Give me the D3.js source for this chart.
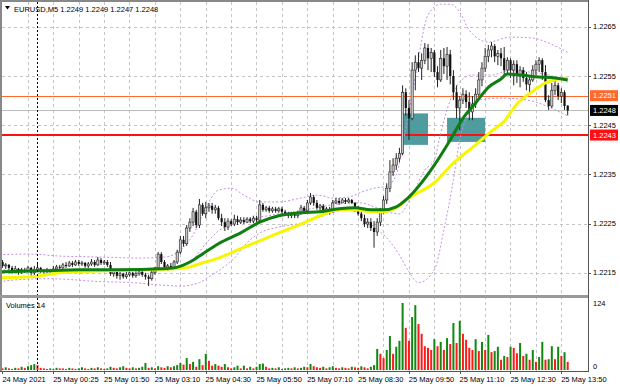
<!DOCTYPE html>
<html>
<head>
<script src="https://d3js.org/d3.v7.min.js"></script>
<style>
  body { margin: 0; background: #fff; }
  svg text { font-family: "Liberation Sans", Arial, sans-serif; }
</style>
</head>
<body>
<div id="chart"></div>
<script>
// EURUSD M5, 24 May 23:05 .. 25 May 14:00, one row per bar: open, high, low, close
const candles = [
  [1.22166,1.22180,1.22160,1.22172],[1.22172,1.22176,1.22160,1.22164],[1.22164,1.22170,1.22158,1.22166],[1.22166,1.22168,1.22156,1.22160],[1.22160,1.22164,1.22148,1.22154],
  [1.22154,1.22164,1.22150,1.22158],[1.22158,1.22160,1.22146,1.22152],[1.22152,1.22160,1.22148,1.22156],[1.22156,1.22160,1.22150,1.22154],[1.22154,1.22164,1.22152,1.22160],
  [1.22160,1.22162,1.22140,1.22150],[1.22150,1.22164,1.22142,1.22156],[1.22156,1.22168,1.22152,1.22160],[1.22160,1.22162,1.22150,1.22154],[1.22154,1.22158,1.22148,1.22152],
  [1.22152,1.22160,1.22150,1.22156],[1.22156,1.22158,1.22150,1.22154],[1.22154,1.22164,1.22152,1.22158],[1.22158,1.22166,1.22156,1.22162],[1.22162,1.22166,1.22156,1.22160],
  [1.22160,1.22170,1.22158,1.22166],[1.22166,1.22172,1.22160,1.22164],[1.22164,1.22174,1.22162,1.22170],[1.22170,1.22174,1.22162,1.22166],[1.22166,1.22176,1.22164,1.22172],
  [1.22172,1.22176,1.22164,1.22168],[1.22168,1.22174,1.22164,1.22170],[1.22170,1.22172,1.22160,1.22164],[1.22164,1.22172,1.22160,1.22168],[1.22168,1.22178,1.22164,1.22172],
  [1.22172,1.22176,1.22162,1.22166],[1.22166,1.22182,1.22164,1.22176],[1.22176,1.22180,1.22166,1.22170],[1.22170,1.22176,1.22166,1.22172],[1.22172,1.22176,1.22162,1.22166],
  [1.22166,1.22172,1.22144,1.22148],[1.22148,1.22156,1.22142,1.22152],[1.22152,1.22154,1.22138,1.22144],[1.22144,1.22152,1.22136,1.22148],[1.22148,1.22150,1.22138,1.22142],
  [1.22142,1.22152,1.22138,1.22146],[1.22146,1.22156,1.22142,1.22150],[1.22150,1.22152,1.22140,1.22144],[1.22144,1.22154,1.22140,1.22148],[1.22148,1.22158,1.22144,1.22152],
  [1.22152,1.22154,1.22142,1.22146],[1.22146,1.22150,1.22136,1.22142],[1.22142,1.22146,1.22123,1.22138],[1.22138,1.22154,1.22134,1.22150],[1.22150,1.22162,1.22146,1.22160],
  [1.22160,1.22192,1.22158,1.22188],[1.22188,1.22192,1.22168,1.22172],[1.22172,1.22176,1.22156,1.22160],[1.22160,1.22168,1.22154,1.22164],[1.22164,1.22170,1.22156,1.22160],
  [1.22160,1.22176,1.22156,1.22172],[1.22172,1.22197,1.22168,1.22192],[1.22192,1.22225,1.22188,1.22217],[1.22217,1.22225,1.22203,1.22209],[1.22209,1.22247,1.22205,1.22241],
  [1.22241,1.22261,1.22233,1.22253],[1.22253,1.22282,1.22245,1.22274],[1.22274,1.22278,1.22241,1.22247],[1.22247,1.22300,1.22241,1.22288],[1.22288,1.22292,1.22266,1.22270],
  [1.22270,1.22294,1.22261,1.22282],[1.22282,1.22292,1.22274,1.22286],[1.22286,1.22292,1.22270,1.22278],[1.22278,1.22288,1.22270,1.22282],[1.22282,1.22286,1.22257,1.22261],
  [1.22261,1.22270,1.22245,1.22253],[1.22253,1.22261,1.22235,1.22243],[1.22243,1.22261,1.22237,1.22255],[1.22255,1.22259,1.22245,1.22249],[1.22249,1.22268,1.22245,1.22259],
  [1.22259,1.22266,1.22247,1.22253],[1.22253,1.22263,1.22249,1.22257],[1.22257,1.22263,1.22249,1.22253],[1.22253,1.22263,1.22251,1.22259],[1.22259,1.22263,1.22251,1.22255],
  [1.22255,1.22266,1.22251,1.22261],[1.22261,1.22266,1.22253,1.22257],[1.22257,1.22298,1.22253,1.22288],[1.22288,1.22292,1.22274,1.22278],[1.22278,1.22286,1.22274,1.22282],
  [1.22282,1.22286,1.22272,1.22276],[1.22276,1.22284,1.22272,1.22280],[1.22280,1.22284,1.22272,1.22276],[1.22276,1.22284,1.22272,1.22280],[1.22280,1.22284,1.22270,1.22274],
  [1.22274,1.22278,1.22266,1.22270],[1.22270,1.22274,1.22261,1.22266],[1.22266,1.22274,1.22261,1.22270],[1.22270,1.22272,1.22261,1.22266],[1.22266,1.22276,1.22261,1.22270],
  [1.22270,1.22288,1.22268,1.22282],[1.22282,1.22286,1.22272,1.22276],[1.22276,1.22298,1.22274,1.22292],[1.22292,1.22312,1.22288,1.22304],[1.22304,1.22308,1.22286,1.22292],
  [1.22292,1.22298,1.22278,1.22282],[1.22282,1.22290,1.22274,1.22286],[1.22286,1.22290,1.22270,1.22276],[1.22276,1.22284,1.22272,1.22280],[1.22280,1.22284,1.22268,1.22274],
  [1.22274,1.22298,1.22272,1.22292],[1.22292,1.22302,1.22290,1.22296],[1.22296,1.22302,1.22288,1.22292],[1.22292,1.22302,1.22292,1.22298],[1.22298,1.22302,1.22290,1.22294],
  [1.22294,1.22302,1.22292,1.22298],[1.22298,1.22300,1.22290,1.22292],[1.22292,1.22294,1.22274,1.22282],[1.22282,1.22286,1.22266,1.22270],[1.22270,1.22274,1.22255,1.22261],
  [1.22261,1.22268,1.22243,1.22249],[1.22249,1.22261,1.22241,1.22253],[1.22253,1.22261,1.22235,1.22241],[1.22241,1.22255,1.22201,1.22233],[1.22233,1.22261,1.22225,1.22253],
  [1.22253,1.22282,1.22245,1.22274],[1.22274,1.22306,1.22270,1.22298],[1.22298,1.22332,1.22290,1.22322],[1.22322,1.22379,1.22314,1.22355],[1.22355,1.22383,1.22347,1.22369],
  [1.22369,1.22393,1.22359,1.22383],[1.22383,1.22404,1.22375,1.22393],[1.22393,1.22531,1.22389,1.22517],[1.22517,1.22525,1.22469,1.22485],[1.22485,1.22501,1.22420,1.22464],
  [1.22464,1.22578,1.22460,1.22562],[1.22562,1.22592,1.22521,1.22578],[1.22578,1.22598,1.22558,1.22566],[1.22566,1.22596,1.22542,1.22582],[1.22582,1.22617,1.22574,1.22607],
  [1.22607,1.22615,1.22562,1.22586],[1.22586,1.22607,1.22558,1.22598],[1.22598,1.22603,1.22548,1.22558],[1.22558,1.22570,1.22527,1.22542],[1.22542,1.22603,1.22538,1.22586],
  [1.22586,1.22607,1.22554,1.22570],[1.22570,1.22609,1.22542,1.22594],[1.22594,1.22603,1.22533,1.22550],[1.22550,1.22562,1.22501,1.22517],[1.22517,1.22531,1.22464,1.22485],
  [1.22485,1.22509,1.22440,1.22501],[1.22501,1.22525,1.22493,1.22513],[1.22513,1.22521,1.22485,1.22497],[1.22497,1.22517,1.22460,1.22477],[1.22477,1.22509,1.22460,1.22493],
  [1.22493,1.22525,1.22485,1.22513],[1.22513,1.22558,1.22509,1.22542],[1.22542,1.22578,1.22529,1.22566],[1.22566,1.22607,1.22558,1.22590],[1.22590,1.22613,1.22578,1.22603],
  [1.22603,1.22619,1.22588,1.22611],[1.22611,1.22615,1.22578,1.22590],[1.22590,1.22603,1.22572,1.22596],[1.22596,1.22607,1.22570,1.22586],[1.22586,1.22609,1.22548,1.22562],
  [1.22562,1.22588,1.22552,1.22582],[1.22582,1.22586,1.22546,1.22562],[1.22562,1.22582,1.22531,1.22574],[1.22574,1.22582,1.22536,1.22552],[1.22552,1.22570,1.22527,1.22562],
  [1.22562,1.22568,1.22538,1.22546],[1.22546,1.22558,1.22521,1.22533],[1.22533,1.22550,1.22515,1.22542],[1.22542,1.22572,1.22538,1.22562],[1.22562,1.22582,1.22552,1.22574],
  [1.22574,1.22588,1.22558,1.22582],[1.22582,1.22586,1.22542,1.22558],[1.22558,1.22572,1.22497,1.22501],[1.22501,1.22511,1.22481,1.22489],[1.22489,1.22536,1.22485,1.22521],
  [1.22521,1.22542,1.22511,1.22531],[1.22531,1.22536,1.22501,1.22509],[1.22509,1.22525,1.22495,1.22517],[1.22517,1.22521,1.22481,1.22489],[1.22490,1.22490,1.22470,1.22480]
];

// tick volume per bar
const volumes = [
  4,3,5,3,2,4,3,6,4,7,9,11,9,4,3,2,3,2,4,3,
  3,2,4,3,2,3,5,3,2,4,3,5,3,2,3,6,4,3,5,7,
  4,3,5,3,4,6,13,4,5,3,7,5,4,7,5,7,9,13,10,22,
  11,15,6,20,9,30,17,8,11,8,6,11,5,3,5,8,3,8,3,6,
  3,6,11,12,6,3,4,3,5,2,3,4,3,5,3,4,6,5,11,7,
  5,4,6,3,5,7,4,3,5,4,3,6,5,4,7,5,3,6,9,39,
  30,22,37,63,30,43,54,124,78,54,98,120,85,67,44,41,37,57,44,52,
  37,59,48,87,50,91,67,56,41,37,57,35,52,37,65,33,35,43,19,26,
  24,43,41,31,50,26,30,19,37,15,24,52,19,20,44,20,43,26,33,15
];

// indicator lines as [bar, price]
const maGreen = [[0,1.22152],[13,1.22154],[25,1.22156],[38,1.22156],[51,1.22158],[55,1.22160],[60,1.22172],[63,1.22184],
  [69,1.22209],[76,1.22231],[82,1.22253],[88,1.22266],[95,1.22272],[101,1.22274],[107,1.22280],[112,1.22282],[117,1.22278],
  [121,1.22278],[125,1.22284],[128,1.22298],[131,1.22318],[137,1.22369],[142,1.22420],[146,1.22464],[150,1.22495],
  [154,1.22527],[158,1.22544],[160,1.22554],[164,1.22552],[170,1.22548],[175,1.22546],[179,1.22542]];
const maYellow = [[0,1.22140],[10,1.22142],[19,1.22150],[32,1.22154],[44,1.22156],[55,1.22158],[60,1.22162],[63,1.22168],
  [69,1.22180],[76,1.22199],[82,1.22215],[88,1.22231],[95,1.22249],[101,1.22266],[107,1.22278],[112,1.22278],[117,1.22274],
  [121,1.22274],[125,1.22282],[129,1.22302],[137,1.22333],[143,1.22373],[150,1.22410],[155,1.22438],[159,1.22458],
  [163,1.22493],[168,1.22519],[172,1.22536],[176,1.22544],[179,1.22546]];
const bbUpper = [[0,1.22187],[10,1.22188],[19,1.22184],[32,1.22182],[44,1.22180],[52,1.22182],[57,1.22196],[61,1.22227],
  [65,1.22282],[69,1.22318],[73,1.22322],[77,1.22308],[82,1.22294],[88,1.22294],[95,1.22302],[100,1.22308],[105,1.22302],
  [110,1.22304],[114,1.22314],[118,1.22322],[122,1.22326],[125,1.22349],[128,1.22444],[131,1.22548],[135,1.22674],
  [139,1.22696],[142,1.22696],[145,1.22680],[148,1.22643],[154,1.22619],[161,1.22629],[168,1.22627],[173,1.22617],[179,1.22598]];
const bbMiddle = [[0,1.22156],[54,1.22156],[61,1.22178],[65,1.22209],[69,1.22235],[74,1.22251],[78,1.22259],[82,1.22263],
  [88,1.22270],[95,1.22276],[101,1.22284],[107,1.22290],[114,1.22292],[118,1.22284],[122,1.22274],[126,1.22270],
  [130,1.22308],[134,1.22359],[137,1.22379],[139,1.22434],[142,1.22501],[145,1.22538],[149,1.22552],[155,1.22552],
  [161,1.22562],[167,1.22558],[173,1.22552],[179,1.22538]];
const bbLower = [[0,1.22132],[6,1.22136],[16,1.22138],[32,1.22132],[42,1.22130],[51,1.22125],[57,1.22123],[63,1.22130],
  [66,1.22142],[69,1.22154],[74,1.22180],[78,1.22211],[82,1.22231],[88,1.22243],[95,1.22251],[100,1.22261],[104,1.22270],
  [109,1.22278],[114,1.22270],[118,1.22243],[122,1.22221],[126,1.22186],[129,1.22152],[132,1.22130],[137,1.22156],
  [140,1.22237],[143,1.22339],[145,1.22420],[148,1.22477],[151,1.22501],[158,1.22505],[164,1.22503],[169,1.22497],
  [173,1.22487],[179,1.22469]];

const priceTicks = [1.2215, 1.2225, 1.2235, 1.2245, 1.2255, 1.2265];
const timeLabels = ["24 May 2021","25 May 00:25","25 May 01:50","25 May 03:10","25 May 04:30","25 May 05:50",
  "25 May 07:10","25 May 08:30","25 May 09:50","25 May 11:10","25 May 12:30","25 May 13:50"];
const labelEvery = 16;      // bars between time labels
const dayBreakBar = 11;     // 25 May 00:00
const resistance = 1.2251, support = 1.2243, bid = 1.2248;
// shaded entry zones: [first bar, last bar, top price, bottom price]
const zones = [[127, 135, 1.22474, 1.22410], [141, 153, 1.22465, 1.22416]];
const header = "EURUSD,M5  1.2249 1.2249 1.2247 1.2248";

const W = 620, H = 388;
const plotR = 588, mainTop = 2, mainBottom = 294, volTop = 299, volBottom = 371;

const svg = d3.select("#chart").append("svg")
  .attr("width", W).attr("height", H)
  .style("display", "block");
svg.append("rect").attr("width", W).attr("height", H).attr("fill", "#fff");

const x = d3.scaleLinear().domain([0, 179]).range([-0.6, 567.7]);
const y = d3.scaleLinear().domain([1.2215, 1.2265]).range([272.8, 26.8]);
const yv = d3.scaleLinear().domain([0, 124]).range([370, 303]);

const defs = svg.append("defs");
defs.append("clipPath").attr("id", "clipMain").append("rect")
  .attr("x", 2).attr("y", mainTop).attr("width", plotR - 2).attr("height", mainBottom - mainTop);
defs.append("clipPath").attr("id", "clipVol").append("rect")
  .attr("x", 2).attr("y", volTop).attr("width", plotR - 2).attr("height", volBottom - volTop);

// grid
const gridCol = "#c4c4c4";
const gridBars = d3.range(8, 180, 8).filter(b => x(b) + 3 < plotR - 2);
const grid = svg.append("g").attr("stroke", gridCol).attr("stroke-dasharray", "3,3").attr("stroke-width", 1);
grid.selectAll("line.h").data(priceTicks).join("line")
  .attr("x1", 2).attr("x2", plotR).attr("y1", d => Math.round(y(d)) + 0.5).attr("y2", d => Math.round(y(d)) + 0.5);
grid.selectAll("line.v").data(gridBars).join("line")
  .attr("x1", d => Math.round(x(d) + 3) + 0.5).attr("x2", d => Math.round(x(d) + 3) + 0.5)
  .attr("y1", mainTop).attr("y2", volBottom);

const main = svg.append("g").attr("clip-path", "url(#clipMain)");

// zones
main.selectAll("rect.zone").data(zones).join("rect")
  .attr("x", d => x(d[0])).attr("width", d => x(d[1]) - x(d[0]))
  .attr("y", d => y(d[2])).attr("height", d => y(d[3]) - y(d[2]))
  .attr("fill", "#4f9c9e");

// level lines
main.append("line").attr("x1", 2).attr("x2", plotR)
  .attr("y1", Math.round(y(bid)) + 0.5).attr("y2", Math.round(y(bid)) + 0.5)
  .attr("stroke", "#bdbdbd").attr("stroke-width", 1);
main.append("line").attr("x1", 2).attr("x2", plotR)
  .attr("y1", Math.round(y(resistance)) + 0.5).attr("y2", Math.round(y(resistance)) + 0.5)
  .attr("stroke", "#ff6a2a").attr("stroke-width", 1);
main.append("line").attr("x1", 2).attr("x2", plotR)
  .attr("y1", y(support)).attr("y2", y(support))
  .attr("stroke", "#ff1010").attr("stroke-width", 2);

// bollinger bands
const line = d3.line().x(d => x(d[0])).y(d => y(d[1])).curve(d3.curveMonotoneX);
[bbUpper, bbMiddle, bbLower].forEach(s => {
  main.append("path").attr("d", line(s)).attr("fill", "none")
    .attr("stroke", "#c48fe6").attr("stroke-width", 1).attr("stroke-dasharray", "2,2");
});

// candles
const cw = 2.2;
const cg = main.append("g");
cg.selectAll("line").data(candles).join("line")
  .attr("x1", (d, i) => x(i)).attr("x2", (d, i) => x(i))
  .attr("y1", d => y(d[1])).attr("y2", d => y(d[2]))
  .attr("stroke", "#222").attr("stroke-width", 1);
cg.selectAll("rect").data(candles).join("rect")
  .attr("x", (d, i) => x(i) - cw / 2).attr("width", cw)
  .attr("y", d => y(Math.max(d[0], d[3])))
  .attr("height", d => Math.max(1, Math.abs(y(d[0]) - y(d[3]))))
  .attr("fill", d => d[3] >= d[0] ? "#c8c8c8" : "#111")
  .attr("stroke", d => d[3] >= d[0] ? "#222" : "none")
  .attr("stroke-width", 0.6);

// moving averages
main.append("path").attr("d", line(maYellow)).attr("fill", "none")
  .attr("stroke", "#f6f600").attr("stroke-width", 3).attr("stroke-linejoin", "round");
main.append("path").attr("d", line(maGreen)).attr("fill", "none")
  .attr("stroke", "#0f7d0f").attr("stroke-width", 3).attr("stroke-linejoin", "round");

// volumes
svg.append("g").attr("clip-path", "url(#clipVol)")
  .selectAll("rect").data(volumes).join("rect")
  .attr("x", (d, i) => x(i) - 1).attr("width", 2)
  .attr("y", d => yv(d)).attr("height", d => yv(0) - yv(d))
  .attr("fill", (d, i) => i === 0 || d > volumes[i - 1] ? "#118811" : "#ff1a1a");

// day separator
svg.append("line")
  .attr("x1", Math.round(x(dayBreakBar) + 3) + 0.5).attr("x2", Math.round(x(dayBreakBar) + 3) + 0.5)
  .attr("y1", mainTop).attr("y2", volBottom)
  .attr("stroke", "#000").attr("stroke-dasharray", "2,2");

// frame
const frame = svg.append("g").attr("fill", "none");
frame.append("line").attr("x1", 0).attr("x2", plotR).attr("y1", 1).attr("y2", 1).attr("stroke", "#888").attr("stroke-width", 2);
frame.append("line").attr("x1", 1).attr("x2", 1).attr("y1", 0).attr("y2", volBottom).attr("stroke", "#888").attr("stroke-width", 2);
frame.append("rect").attr("x", 0).attr("y", mainBottom + 1).attr("width", plotR).attr("height", 3).attr("fill", "#9a9a9a");
frame.append("line").attr("x1", plotR + 0.5).attr("x2", plotR + 0.5).attr("y1", 0).attr("y2", volBottom + 1).attr("stroke", "#555");
frame.append("line").attr("x1", 0).attr("x2", plotR + 1).attr("y1", volBottom + 0.5).attr("y2", volBottom + 0.5).attr("stroke", "#555");

// price axis
const fs = 7.5;
const ax = svg.append("g");
ax.selectAll("line").data(priceTicks).join("line")
  .attr("x1", plotR).attr("x2", plotR + 3).attr("y1", d => Math.round(y(d)) + 0.5).attr("y2", d => Math.round(y(d)) + 0.5)
  .attr("stroke", "#555");
ax.selectAll("text").data(priceTicks).join("text")
  .attr("x", 593).attr("y", d => y(d)).attr("dy", "0.35em")
  .attr("font-size", fs).attr("fill", "#000").text(d => d.toFixed(4));

// price tags
[[resistance, "#ff6a2a"], [bid, "#000"], [support, "#ff1010"]].forEach(([p, c]) => {
  const g = svg.append("g");
  g.append("rect").attr("x", 590).attr("y", y(p) - 5.5).attr("width", 28).attr("height", 11).attr("fill", c);
  g.append("text").attr("x", 593).attr("y", y(p)).attr("dy", "0.35em")
    .attr("font-size", fs).attr("fill", "#fff").text(p.toFixed(4));
});

// volume axis
[124, 0].forEach(v => {
  svg.append("text").attr("x", 593).attr("y", v === 0 ? 366 : yv(v)).attr("dy", "0.35em")
    .attr("font-size", fs).attr("fill", "#000").text(v);
});

// time axis
svg.append("g").selectAll("text").data(timeLabels).join("text")
  .attr("x", (d, i) => x(i * labelEvery) + 3).attr("y", 382)
  .attr("font-size", fs).attr("fill", "#000").text(d => d);
svg.append("g").selectAll("line").data(timeLabels).join("line")
  .attr("x1", (d, i) => Math.round(x(i * labelEvery) + 3) + 0.5).attr("x2", (d, i) => Math.round(x(i * labelEvery) + 3) + 0.5)
  .attr("y1", volBottom).attr("y2", volBottom + 3).attr("stroke", "#555");

// header
svg.append("path").attr("d", "M5,6 L10,6 L7.5,9.5 Z").attr("fill", "#000");
svg.append("text").attr("x", 14).attr("y", 11.5).attr("font-size", fs).attr("fill", "#000").text(header);
svg.append("text").attr("x", 6).attr("y", 308).attr("font-size", fs).attr("fill", "#000").text("Volumes 14");
</script>
</body>
</html>
